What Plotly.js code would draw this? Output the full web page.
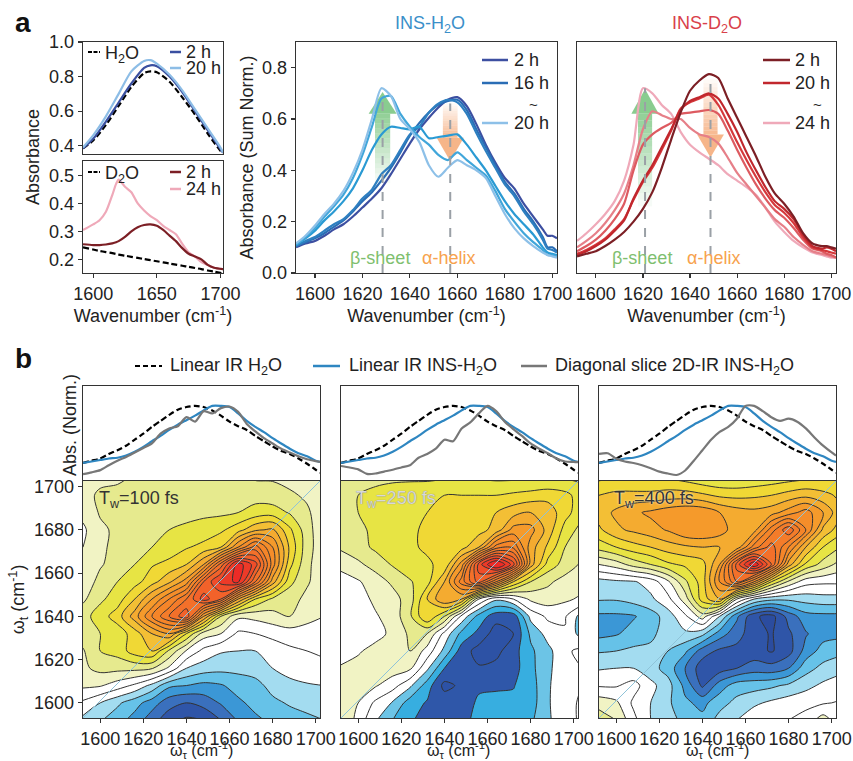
<!DOCTYPE html>
<html><head><meta charset="utf-8">
<script src="https://cdn.plot.ly/plotly-3.0.1.min.js"></script>
<style>html,body{margin:0;padding:0;background:#fff}#c{width:853px;height:761px}</style>
</head><body><div id="c"></div>
<script>
// ---------- panel a, small spectra ----------
const xSmallH = [1592,1600,1610,1620,1630,1640,1645,1650,1660,1670,1680,1690,1700,1702];
const h2oBaseline = [.385,.43,.52,.63,.74,.82,.83,.825,.77,.68,.58,.47,.37,.355];
const h2o2h = [.385,.44,.54,.65,.76,.85,.865,.86,.80,.71,.60,.49,.38,.36];
const h2o20h = [.39,.46,.57,.70,.83,.89,.895,.875,.81,.72,.61,.50,.39,.36];
const xSmallD = [1592,1600,1605,1610,1615,1618,1620,1625,1630,1635,1640,1645,1650,1655,1660,1665,1670,1675,1680,1685,1690,1695,1702];
const d2oBaseline = [.243,.235,.230,.226,.222,.219,.217,.213,.209,.205,.201,.197,.193,.189,.185,.181,.177,.173,.169,.165,.160,.156,.150];
const d2o2h = [.254,.251,.251,.253,.257,.261,.265,.28,.30,.315,.323,.325,.32,.305,.285,.265,.24,.22,.21,.20,.18,.17,.165];
const d2o24h = [.305,.325,.34,.37,.43,.47,.485,.46,.44,.40,.375,.355,.34,.32,.305,.29,.255,.225,.21,.19,.18,.17,.165];
// ---------- panel a, time series ----------
const xA = [1592,1596,1600,1604,1608,1612,1616,1620,1624,1628,1632,1636,1640,1644,1648,1652,1656,1660,1664,1668,1672,1676,1680,1684,1688,1692,1696,1698,1700,1702];
const insH1 = [.10,.115,.125,.145,.17,.19,.22,.255,.29,.33,.385,.445,.505,.56,.605,.645,.675,.685,.65,.58,.50,.43,.37,.33,.27,.22,.17,.145,.145,.135];
const insH2 = [.105,.12,.135,.155,.18,.205,.24,.28,.315,.36,.41,.47,.535,.585,.625,.655,.67,.675,.635,.56,.49,.42,.355,.31,.25,.20,.14,.10,.10,.085];
const insH3 = [.105,.125,.14,.165,.19,.21,.245,.29,.325,.385,.42,.48,.54,.57,.625,.66,.675,.665,.62,.545,.475,.41,.345,.30,.24,.19,.13,.095,.09,.08];
const insH4 = [.11,.135,.165,.205,.24,.28,.33,.40,.48,.54,.57,.565,.56,.57,.525,.53,.535,.54,.50,.45,.40,.34,.28,.23,.19,.15,.10,.08,.075,.07];
const insH5 = [.11,.14,.175,.22,.26,.305,.37,.46,.57,.68,.69,.62,.57,.53,.50,.46,.44,.47,.44,.41,.38,.32,.25,.20,.155,.12,.09,.07,.07,.065];
const insH6 = [.115,.145,.185,.23,.27,.32,.39,.48,.60,.72,.69,.60,.56,.51,.42,.375,.41,.44,.42,.40,.37,.30,.23,.175,.135,.105,.08,.07,.065,.06];
const insD1 = [.065,.075,.085,.105,.13,.16,.20,.25,.315,.41,.52,.625,.71,.75,.775,.76,.68,.605,.53,.455,.375,.31,.27,.22,.155,.115,.105,.105,.10,.095];
const insD2 = [.07,.085,.105,.13,.165,.205,.29,.36,.42,.49,.56,.635,.67,.685,.70,.68,.62,.55,.47,.40,.335,.28,.25,.21,.15,.105,.095,.10,.095,.085];
const insD3 = [.075,.09,.11,.135,.17,.21,.285,.355,.41,.48,.555,.64,.665,.68,.695,.655,.585,.51,.44,.375,.315,.265,.235,.195,.14,.10,.09,.085,.08,.075];
const insD4 = [.085,.105,.13,.165,.21,.27,.40,.50,.54,.565,.585,.62,.625,.63,.635,.62,.555,.48,.41,.345,.29,.245,.215,.175,.13,.095,.085,.075,.07,.06];
const insD5 = [.10,.125,.155,.195,.245,.31,.42,.56,.63,.615,.60,.60,.565,.54,.53,.505,.45,.39,.345,.30,.255,.21,.18,.14,.11,.085,.075,.07,.065,.06];
const insD6 = [.125,.155,.19,.23,.28,.36,.50,.72,.70,.655,.62,.55,.50,.47,.445,.42,.385,.36,.335,.305,.255,.20,.16,.125,.10,.08,.07,.065,.06,.06];
// ---------- panel b, normalised spectra ----------
const xB = [1592,1596,1600,1604,1608,1612,1616,1620,1624,1628,1632,1636,1640,1644,1648,1652,1656,1660,1664,1668,1672,1676,1680,1684,1688,1692,1696,1700,1702];
const linH2O = [.24,.27,.30,.36,.41,.47,.55,.63,.72,.80,.88,.95,.985,1,.985,.94,.87,.79,.73,.68,.60,.53,.46,.40,.36,.30,.23,.15,.11];
const linINS = [.24,.26,.28,.30,.31,.34,.39,.455,.53,.60,.68,.75,.81,.87,.94,1,1,.985,.90,.80,.72,.65,.57,.50,.43,.37,.33,.27,.255];
const diag100 = [.09,.115,.145,.21,.27,.32,.38,.44,.50,.63,.70,.73,.85,.79,.93,.90,.97,.99,.92,.76,.66,.57,.50,.43,.38,.33,.29,.265,.255];
const diag250 = [.20,.18,.155,.095,.10,.125,.15,.18,.21,.31,.36,.43,.55,.53,.70,.78,.90,1,.93,.79,.69,.60,.50,.43,.37,.30,.26,.255,.25];
const diag400 = [.36,.37,.30,.26,.24,.21,.17,.125,.10,.08,.14,.27,.41,.55,.655,.72,.83,1,1,.93,.85,.80,.83,.79,.70,.58,.47,.38,.34];
// ---------- panel b, 2D-IR maps (rows listed from top, y=1704, to bottom, y=1592) ----------
const wTau = [1592,1600,1608,1616,1624,1632,1640,1648,1656,1664,1672,1680,1688,1696,1704];
const wT = [1704,1696,1688,1680,1672,1664,1656,1648,1640,1632,1624,1616,1608,1600,1592];
const tw100 = [
[1.6,1.7,1.7,2.2,2.5,2.6,2.6,2.6,2.6,2.5,1.9,1.9,1.8,1.8,1.7],
[1.6,2.2,2.5,2.6,2.7,2.7,2.6,2.5,2.4,2.5,2.6,2.4,2.1,1.9,1.7],
[1.3,2.1,2.4,2.5,2.6,2.7,2.7,2.8,2.8,3.0,3.4,3.5,2.9,2.1,1.6],
[0.8,1.8,2.2,2.4,2.6,3.0,3.2,3.4,3.8,4.6,5.8,6.2,4.2,2.4,1.2],
[1.0,1.8,2.3,2.6,3.0,3.4,3.9,4.3,5.0,8.0,10.5,8.0,4.8,2.4,1.3],
[1.2,1.9,2.4,3.0,3.9,4.3,5.0,7.0,11.5,15.6,13.5,8.5,4.3,2.2,1.4],
[1.4,2.3,3.0,3.6,4.6,5.8,7.5,12,14.3,15.3,11,6.5,3.3,2.1,1.5],
[1.8,2.8,3.5,5.0,7.0,9.0,11,13.5,12,7,4,2.8,2.3,1.8,1.4],
[2.6,3.5,4.5,6.5,9,11,12.8,7,3,1.2,1.3,1.6,2.0,1.3,1.0],
[2.5,3.0,3.4,4.5,6,7,4,1.5,1.0,-0.2,0,0.3,0.5,0.6,0.8],
[1.9,3.0,3.4,4.5,5.0,2.8,0.9,-0.3,-0.9,-1.0,-1.0,-0.6,-0.2,0,0.2],
[1.8,2.3,2.3,2.3,2.1,0.8,-1,-1.5,-1.7,-1.7,-1.6,-1,-0.6,-0.4,-0.3],
[1.2,1.1,0.5,-0.2,-1.3,-2.8,-3.0,-3.3,-3.1,-2.6,-2.3,-1.7,-1.3,-1.1,-1],
[-0.2,-1,-1.8,-2.6,-3.5,-4.6,-5,-4.6,-3.9,-3.2,-2.7,-2.2,-1.9,-1.7,-1.5],
[-1.3,-1.9,-2.6,-3.4,-4.6,-5.6,-6.2,-6,-5,-3.9,-3.2,-2.8,-2.4,-2.2,-2]];
const tw250 = [
[2.5,2.6,2.7,2.8,2.8,2.8,2.9,2.9,2.9,2.8,2.8,2.8,2.9,2.9,2.8],
[3.0,3.0,3.3,3.5,3.7,3.8,4.0,4.0,4.0,4.0,4.2,4.4,4.6,4.3,3.5],
[2.8,3.0,3.4,3.5,3.8,4.0,4.3,4.6,4.8,5,5.6,6,5.6,4.4,3.3],
[2.3,2.8,3.2,3.5,3.8,4.2,5,5,4.6,5.4,7.4,7.4,5.6,3.6,2.6],
[2.2,2.6,3.2,3.6,3.9,4.1,4.3,4.6,6,9.5,9.8,6.5,4.8,3,2.1],
[1.2,1.8,2.4,3.1,3.6,3.9,4.2,7.5,13.5,16.5,13.5,6.5,3.6,2.6,1.8],
[0.7,0.9,1.5,2.2,2.9,3.6,6,9.5,12.5,9,5,3,2.2,1.6,1.4],
[0.2,0.6,1.2,1.6,2.5,5,7,6,1,-0.8,0,1.2,1.5,1.2,0.8],
[0,0.4,0.9,1.4,2.8,5,3,-0.3,-2.4,-3.6,-3.6,-0.7,0.2,0.1,-1.5],
[0.2,0.3,0.7,1.2,2.2,2.0,-0.3,-2.3,-3.3,-4.5,-4.0,-1.8,-0.6,-0.1,-1.5],
[0.6,0.9,1.3,1.8,2.0,0.6,-1.3,-3.5,-4.4,-4.3,-3.4,-2.2,-1.3,-0.2,0.3],
[1.1,1.3,1.6,1.5,1.2,-0.8,-3,-3.8,-3.9,-3.7,-3.4,-2.3,-1.2,-0.4,0],
[1.7,1.2,1.1,0.4,-0.8,-2.5,-4.3,-3.8,-3.1,-3.1,-3.05,-2.5,-1.1,-0.5,0],
[1.4,1.0,-0.2,-1.1,-2.5,-3.1,-3.4,-3.3,-2.9,-2.8,-2.8,-2.5,-1.1,-0.4,0.2],
[2.1,0.6,-0.9,-2,-2.9,-3.3,-3.3,-3.1,-2.9,-2.7,-2.6,-2.2,-1.1,-0.6,0.3]];
const tw400 = [
[3.8,4,4,4,3.9,3.6,3.2,3,3,3.2,3.4,3.6,3.8,4,3.9],
[5,5.3,5.3,5.3,5.5,5.5,5.2,4.8,4.7,4.8,5,5.4,5.7,5.3,4.8],
[5.5,6.2,6.8,7.2,7.6,7.9,7.8,7,6.5,6.3,6.6,7.5,8.5,7,5.2],
[4.8,5.8,6.2,6.6,7.1,7.9,8.0,7.5,6.4,6.6,9.5,11.8,9,5.8,4.4],
[3.4,4,4.6,5,5.5,5.8,6,6,6.4,9.5,11.5,9,6,4,3],
[1,1.5,2.4,3,3.8,4.2,4.6,7,12.5,16,12,6.5,3.8,2.6,1.6],
[-1.4,-1.2,-1.1,-0.6,0.8,2.8,4.5,8,11,8,4,1.8,0.4,0.2,0.2],
[-1.9,-1.9,-1.6,-1.2,-0.3,1.5,4.5,6,1,-1,-1.7,-1.8,-1.6,-1.4,-1.4],
[-3.2,-3.2,-3.1,-2.5,-1.5,-0.2,1.5,-1,-3.8,-5.8,-6.4,-4.6,-3.4,-3.3,-3.3],
[-3.3,-3.1,-2.6,-2.2,-1.6,-1.2,-1.7,-3.5,-4.6,-5.6,-6.1,-5.2,-4.1,-3.4,-3.3],
[-2.1,-2,-1.8,-1.8,-2,-2.8,-4.5,-5.2,-5.3,-5.6,-6.1,-5.4,-3.6,-2.6,-2.3],
[-1.1,-1,-1,-1.6,-2.4,-4,-5.6,-5.5,-5,-4.5,-4.6,-4,-2.4,-1.7,-1.3],
[-0.1,-0.1,0.4,-0.7,-1.6,-3.3,-5.2,-3.5,-2.5,-2.4,-2.2,-1.8,-1.3,-0.8,-0.5],
[1.6,1.2,-0.2,-1,-1.8,-2.8,-3.3,-2.4,-1.7,-1.2,-0.8,-0.5,-0.3,-0.1,0.1],
[2.6,2,0.3,-1,-1.6,-2.3,-2.7,-1.6,-1,-0.3,0,0,0.4,1.5,0.4]];

const F = 'Liberation Sans, Arial, sans-serif', W = 853, H = 761, TXT = '#222', FS = 18;
const positive = ['#ffffff','#ffffff','#f1f3c4','#e6ea8e','#e7e444','#f0d835','#f3bf35','#f4ab30','#f59a2b','#f58d2a','#f58529','#f47c2a','#f3702a','#f2622a','#ef4d2a','#ed3a28','#ec2b27'];
const neg13 = ['#2b4c9f','#2f55a8','#3a70bd','#3b97d6','#66c2e8','#a3dcf0'];
const neg2 = ['#2d52a5','#2d52a5','#2d52a5','#2f57a9','#37aee0','#6cc4e6'];
const scale = n => { const c = n.concat(positive); return c.map((v,i)=>[i/(c.length-1),v]); };
const dx = (a,b)=>[a/W,b/W], dy = (a,b)=>[1-b/H,1-a/H];

function ln(x,y,color,xa,ya,w,dash,name){return {type:'scatter',mode:'lines',x,y,xaxis:xa,yaxis:ya,showlegend:false,name:name||'',
  line:{color,width:w||2.2,dash:dash||'solid',shape:'spline',smoothing:0.7},hoverinfo:'skip'};}
function cn(z,n,xa,ya){return {type:'contour',x:wTau,y:wT.slice().reverse(),z:z.slice().reverse(),xaxis:xa,yaxis:ya,
  autocontour:false,contours:{start:-6,end:15,size:1,coloring:'fill',showlines:true},colorscale:scale(n),showscale:false,
  line:{color:'#333',width:1,smoothing:0.9},hoverinfo:'skip'};}
const DASH='6px,3px';
const data = [
 ln(xSmallH,h2oBaseline,'#000','x','y',2.2,DASH), ln(xSmallH,h2o2h,'#3a4fa0','x','y'), ln(xSmallH,h2o20h,'#8dbde6','x','y'),
 ln(xSmallD,d2oBaseline,'#000','x2','y2',2.2,DASH), ln(xSmallD,d2o24h,'#efa9b9','x2','y2'), ln(xSmallD,d2o2h,'#7c1f25','x2','y2'),
 ln(xA,insH1,'#3d4fa1','x3','y3'), ln(xA,insH2,'#2a6db5','x3','y3'), ln(xA,insH3,'#2e7fc0','x3','y3'), ln(xA,insH4,'#2a9ad3','x3','y3'), ln(xA,insH5,'#41a6da','x3','y3'), ln(xA,insH6,'#8dc0e8','x3','y3'),
 ln(xA,insD6,'#efa9b9','x4','y4'), ln(xA,insD5,'#e67f88','x4','y4'), ln(xA,insD4,'#dd5a60','x4','y4'), ln(xA,insD3,'#d5383b','x4','y4'), ln(xA,insD2,'#c1272d','x4','y4'), ln(xA,insD1,'#7c1f25','x4','y4'),
 ln(xB,linH2O,'#000','x5','y5',2.2,DASH), ln(xB,linINS,'#2e86c1','x5','y5'), ln(xB,diag100,'#777','x5','y5'),
 ln(xB,linH2O,'#000','x6','y6',2.2,DASH), ln(xB,linINS,'#2e86c1','x6','y6'), ln(xB,diag250,'#777','x6','y6'),
 ln(xB,linH2O,'#000','x7','y7',2.2,DASH), ln(xB,linINS,'#2e86c1','x7','y7'), ln(xB,diag400,'#777','x7','y7'),
 cn(tw100,neg13,'x8','y8'), cn(tw250,neg2,'x9','y9'), cn(tw400,neg13,'x10','y10')
];

const base = {showline:true,mirror:true,linecolor:'#333',linewidth:1.3,zeroline:false,showgrid:false,tickfont:{family:F,size:FS,color:TXT},ticks:'outside',ticklen:4,tickwidth:1.2,tickcolor:'#333'};
const xr = [1592,1702], fine = {tickmode:'array',tickvals:[1600,1620,1640,1660,1680,1700],ticktext:['1600','1620','1640','1660','1680','1700']};
const noTick = {ticks:'',showticklabels:false};
const wnTitle = {text:'Wavenumber (cm<sup>-1</sup>)',font:{family:F,size:FS,color:TXT},standoff:2};
const p = {x:[83,223],h:[296,557],d:[577,836],b1:[83,320],b2:[341,578],b3:[599,836]};
const layout = {width:W,height:H,margin:{l:0,r:0,t:0,b:0},paper_bgcolor:'#fff',plot_bgcolor:'rgba(0,0,0,0)',showlegend:false,
 xaxis:{...base,...noTick,domain:dx(...p.x),range:xr,anchor:'y'},
 yaxis:{...base,domain:dy(42,154),range:[.352,1],anchor:'x',tickvals:[.4,.6,.8,1],ticktext:['0.4','0.6','0.8','1.0']},
 xaxis2:{...base,domain:dx(...p.x),range:xr,anchor:'y2',tickvals:[1600,1650,1700],ticktext:['1600','1650','1700'],title:wnTitle},
 yaxis2:{...base,domain:dy(161,273),range:[.151,.552],anchor:'x2',tickvals:[.2,.3,.4,.5],ticktext:['0.2','0.3','0.4','0.5']},
 xaxis3:{...base,...fine,domain:dx(...p.h),range:xr,anchor:'y3',title:wnTitle},
 yaxis3:{...base,domain:dy(42,273),range:[0,.9],anchor:'x3',tickvals:[0,.2,.4,.6,.8],ticktext:['0.0','0.2','0.4','0.6','0.8'],
   title:{text:'Absorbance (Sum Norm.)',font:{family:F,size:FS,color:TXT},standoff:3}},
 xaxis4:{...base,...fine,domain:dx(...p.d),range:xr,anchor:'y4',title:wnTitle},
 yaxis4:{...base,...noTick,domain:dy(42,273),range:[0,.9],anchor:'x4'},
 xaxis5:{...base,...noTick,domain:dx(...p.b1),range:xr,anchor:'y5'},
 yaxis5:{...base,...noTick,domain:dy(386,481),range:[0,1.265],anchor:'x5'},
 xaxis6:{...base,...noTick,domain:dx(...p.b2),range:xr,anchor:'y6'},
 yaxis6:{...base,...noTick,domain:dy(386,481),range:[0,1.265],anchor:'x6'},
 xaxis7:{...base,...noTick,domain:dx(...p.b3),range:xr,anchor:'y7'},
 yaxis7:{...base,...noTick,domain:dy(386,481),range:[0,1.265],anchor:'x7'},
 xaxis8:{...base,...fine,domain:dx(...p.b1),range:xr,anchor:'y8'},
 yaxis8:{...base,domain:dy(481,718),range:[1593,1702.6],anchor:'x8',tickvals:[1600,1620,1640,1660,1680,1700],ticktext:['1600','1620','1640','1660','1680','1700'],
   title:{text:'ω<sub>t</sub> (cm<sup>-1</sup>)',font:{family:F,size:FS,color:TXT},standoff:4}},
 xaxis9:{...base,...fine,domain:dx(...p.b2),range:xr,anchor:'y9'},
 yaxis9:{...base,...noTick,domain:dy(481,718),range:[1593,1702.6],anchor:'x9'},
 xaxis10:{...base,...fine,domain:dx(...p.b3),range:xr,anchor:'y10'},
 yaxis10:{...base,...noTick,domain:dy(481,718),range:[1593,1702.6],anchor:'x10'},
 shapes:[],annotations:[]
};
const S = layout.shapes, A = layout.annotations;
function txt(x,y,text,o){A.push(Object.assign({xref:'paper',yref:'paper',x:x/W,y:1-y/H,text,showarrow:false,xanchor:'left',yanchor:'middle',font:{family:F,size:FS,color:TXT}},o||{}));}
function key(x0,x1,y,color,dash,w){S.push({type:'line',xref:'paper',yref:'paper',x0:x0/W,x1:x1/W,y0:1-y/H,y1:1-y/H,line:{color,width:w||2.5,dash:dash||'solid'}});}
function arrow(xa,ya,xc,tail,neck,tip,bw,hw,color,dashTop){
  const n=14; for(let i=0;i<n;i++){const a=tail+(neck-tail)*i/n,b=tail+(neck-tail)*(i+1)/n;
    S.push({type:'rect',layer:'below',xref:xa,yref:ya,x0:xc-bw,x1:xc+bw,y0:a,y1:b,line:{width:0},fillcolor:color,opacity:0.06+0.72*(i/n)});}
  S.push({type:'path',layer:'below',xref:xa,yref:ya,path:`M ${xc-hw} ${neck} L ${xc+hw} ${neck} L ${xc} ${tip} Z`,line:{width:0},fillcolor:color,opacity:0.8});
  S.push({type:'line',xref:xa,yref:ya,x0:xc,x1:xc,y0:0,y1:dashTop,line:{color:'#9aa0a6',width:2,dash:'dash'}});
}
const GREEN='#6cbf73', ORANGE='#f4a26c';
arrow('x3','y3',1628.5,.35,.62,.705,3.2,5.9,GREEN,.70);
arrow('x3','y3',1657,.66,.527,.435,3.1,5.7,ORANGE,.66);
arrow('x4','y4',1620.9,.26,.62,.717,3.0,5.8,GREEN,.72);
arrow('x4','y4',1648.7,.755,.54,.45,3.0,5.7,ORANGE,.755);
[['x8','y8'],['x9','y9'],['x10','y10']].forEach(([a,b])=>S.push({type:'line',xref:a,yref:b,x0:1592,y0:1593,x1:1702,y1:1702.6,line:{color:'#8fc3d8',width:1}}));

txt(13,23,'<b>a</b>',{font:{family:F,size:28,color:'#111'}});
txt(13,358,'<b>b</b>',{font:{family:F,size:28,color:'#111'}});
txt(33,157,'Absorbance',{xanchor:'center',textangle:-90});
txt(70,425,'Abs. (Norm.)',{xanchor:'center',textangle:-90});
txt(430,25,'INS-H<sub>2</sub>O',{xanchor:'center',font:{family:F,size:FS,color:'#3a8fc9'}});
txt(707,25,'INS-D<sub>2</sub>O',{xanchor:'center',font:{family:F,size:FS,color:'#d9404a'}});
const tauFont={family:F,size:16,color:TXT};
txt(201,750,'ω<sub>τ</sub> (cm<sup>-1</sup>)',{xanchor:'center',font:tauFont});
txt(459,750,'ω<sub>τ</sub> (cm<sup>-1</sup>)',{xanchor:'center',font:tauFont});
txt(717,750,'ω<sub>τ</sub> (cm<sup>-1</sup>)',{xanchor:'center',font:tauFont});
const LD='4px,1.5px';
// small legends
key(88,100,52,'#000',LD,2); txt(103,54,'H<sub>2</sub>O');
key(170,181,52,'#3a4fa0'); txt(184,52,'2 h'); key(170,181,68,'#8dbde6'); txt(184,68,'20 h');
key(88,100,172,'#000',LD,2); txt(103,174,'D<sub>2</sub>O');
key(170,181,172,'#7c1f25'); txt(184,172,'2 h'); key(170,181,189,'#efa9b9'); txt(184,189,'24 h');
// time series legends
key(482,508,60,'#3d4fa1'); txt(512,60,'2 h'); key(482,508,83,'#2a6db5'); txt(512,83,'16 h'); txt(533,104,'~',{xanchor:'center',font:{family:F,size:15,color:TXT}}); key(482,508,123,'#8dc0e8'); txt(512,123,'20 h');
key(763,790,60,'#7c1f25'); txt(793,60,'2 h'); key(763,790,83,'#c1272d'); txt(793,83,'20 h'); txt(817,104,'~',{xanchor:'center',font:{family:F,size:15,color:TXT}}); key(763,790,123,'#efa9b9'); txt(793,123,'24 h');
// band labels
const gLab={family:F,size:FS,color:'#7fbf6f'}, oLab={family:F,size:FS,color:'#f7a24d'};
txt(380,258,'β-sheet',{xanchor:'center',font:gLab}); txt(448,258,'α-helix',{xanchor:'center',font:oLab});
txt(642,258,'β-sheet',{xanchor:'center',font:gLab}); txt(713,258,'α-helix',{xanchor:'center',font:oLab});
// panel b legend
key(135,162,366,'#000','5px,3px',2); txt(168,366,'Linear IR H<sub>2</sub>O');
key(313,340,366,'#2e86c1'); txt(347,366,'Linear IR INS-H<sub>2</sub>O');
key(521,547,366,'#777'); txt(553,366,'Diagonal slice 2D-IR INS-H<sub>2</sub>O');
// waiting times
txt(97,499,'T<sub>w</sub>=100 fs',{font:{family:F,size:FS,color:'#333'}});
txt(354,499,'T<sub>w</sub>=250 fs',{font:{family:F,size:FS,color:'#d8d8d8',shadow:'0 0 1px #777'}});
txt(612,499,'T<sub>w</sub>=400 fs',{font:{family:F,size:FS,color:'#333',shadow:'0 0 2px #fff'}});
Plotly.newPlot('c',data,layout,{staticPlot:true,displayModeBar:false});
</script></body></html>
